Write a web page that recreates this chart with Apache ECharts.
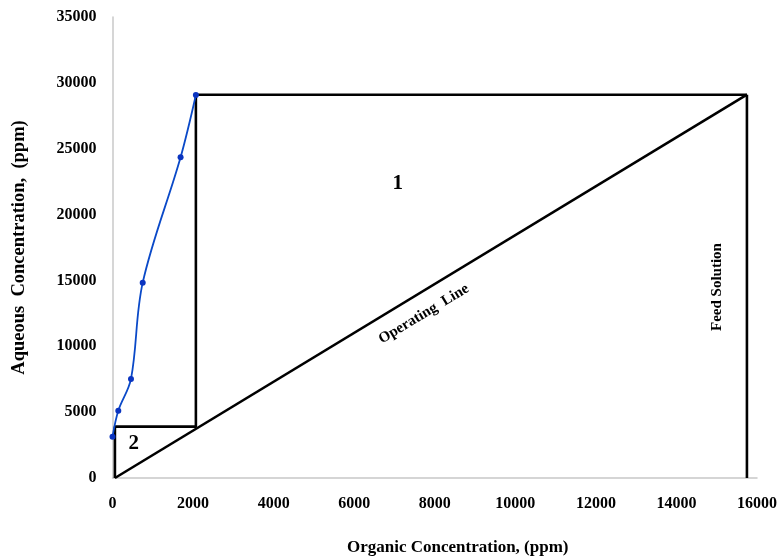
<!DOCTYPE html>
<html>
<head>
<meta charset="utf-8">
<script src="https://cdn.jsdelivr.net/npm/echarts@6/dist/echarts.min.js"></script>
<style>
  html, body { margin: 0; padding: 0; background: #fff; }
  #chart { width: 778px; height: 557px; }
</style>
</head>
<body>
<div id="chart"></div>
<script>
// Equilibrium (extraction isotherm) points: organic vs aqueous concentration, ppm
const isothermOrganic = [0, 144, 459, 750, 1690, 2070];
const isothermAqueous = [3140, 5110, 7520, 14830, 24350, 29080];

// McCabe-Thiele stage steps
const stepsOrganic = [15750, 2070, 2070, 60, 60];
const stepsAqueous = [29100, 29100, 3900, 3900, 0];

// Operating line
const operatingOrganic = [60, 15750];
const operatingAqueous = [0, 29100];

// Feed solution line
const feedOrganic = [15750, 15750];
const feedAqueous = [0, 29100];

// Annotations: text, organic, aqueous, rotation, size
const annoText = ['1', '2', 'Operating  Line', 'Feed Solution'];
const annoOrganic = [7080, 530, 7730, 15000];
const annoAqueous = [22320, 2580, 12450, 14500];
const annoRotate = [0, 0, 31, 90];
const annoSize = [21, 21, 15, 15];

const xTicks = [0, 2000, 4000, 6000, 8000, 10000, 12000, 14000, 16000];
const yTicks = [0, 5000, 10000, 15000, 20000, 25000, 30000, 35000];

const zip = (a, b) => a.map((v, i) => [v, b[i]]);
const FONT = '"Liberation Serif", "Times New Roman", serif';
const black = '#000';
const plain = v => String(v);

const chart = echarts.init(document.getElementById('chart'));
chart.setOption({
  animation: false,
  backgroundColor: '#fff',
  grid: { left: 112.5, top: 17, right: 21, bottom: 79, containLabel: false, outerBoundsMode: 'none' },
  xAxis: {
    type: 'value',
    min: xTicks[0], max: xTicks[xTicks.length - 1], interval: 2000,
    name: 'Organic Concentration, (ppm)',
    nameLocation: 'middle', nameGap: 61,
    nameTextStyle: { fontFamily: FONT, fontWeight: 'bold', fontSize: 17, color: black, padding: [0, 0, 0, 46] },
    axisLine: { show: true, lineStyle: { color: '#c8c8c8', width: 1.5 } },
    axisTick: { show: false },
    splitLine: { show: false },
    axisLabel: { fontFamily: FONT, fontWeight: 'bold', fontSize: 16, color: black, margin: 18, formatter: plain }
  },
  yAxis: {
    type: 'value',
    min: yTicks[0], max: yTicks[yTicks.length - 1], interval: 5000,
    name: 'Aqueous  Concentration,  (ppm)',
    nameLocation: 'middle', nameGap: 84,
    nameTextStyle: { fontFamily: FONT, fontWeight: 'bold', fontSize: 18.5, color: black },
    axisLine: { show: true, lineStyle: { color: '#c8c8c8', width: 1.5 } },
    axisTick: { show: false },
    splitLine: { show: false },
    axisLabel: { fontFamily: FONT, fontWeight: 'bold', fontSize: 16, color: black, margin: 16, formatter: plain }
  },
  series: [
    {
      name: 'steps', type: 'line', data: zip(stepsOrganic, stepsAqueous),
      showSymbol: false, lineStyle: { color: black, width: 2.6 }, z: 2
    },
    {
      name: 'operating', type: 'line', data: zip(operatingOrganic, operatingAqueous),
      showSymbol: false, lineStyle: { color: black, width: 2.6 }, z: 2
    },
    {
      name: 'feed', type: 'line', data: zip(feedOrganic, feedAqueous),
      showSymbol: false, lineStyle: { color: black, width: 2.6 }, z: 2
    },
    {
      name: 'isotherm', type: 'line', data: zip(isothermOrganic, isothermAqueous),
      smooth: 0.35, symbol: 'circle', symbolSize: 6,
      itemStyle: { color: '#0a34c0' },
      lineStyle: { color: '#0a49c8', width: 1.8 }, z: 3
    },
    {
      name: 'labels', type: 'scatter', symbolSize: 1,
      itemStyle: { color: 'rgba(255,255,255,0)', opacity: 1 },
      label: {
        show: true, position: 'inside',
        fontFamily: FONT, fontWeight: 'bold', color: black,
        formatter: p => annoText[p.dataIndex]
      },
      data: annoText.map((t, i) => ({
        value: [annoOrganic[i], annoAqueous[i]],
        label: { rotate: annoRotate[i], fontSize: annoSize[i], fontWeight: 'bold', color: black }
      })),
      silent: true, z: 4
    }
  ]
});
</script>
</body>
</html>
